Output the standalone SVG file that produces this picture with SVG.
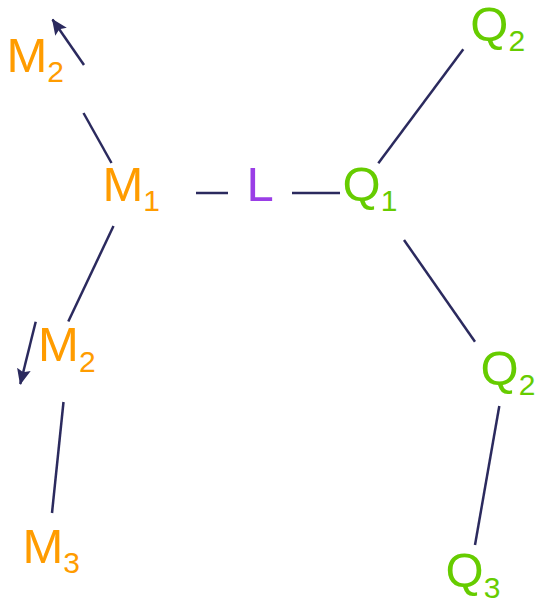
<svg xmlns="http://www.w3.org/2000/svg" width="541" height="602" viewBox="0 0 541 602">
<style>
text{font-family:"Liberation Sans",Arial,sans-serif;font-size:49px}
.sub{font-size:30px}
.o{fill:#ff9c00}
.g{fill:#66cc00}
.p{fill:#9a3ee6}
.c line{stroke:#2b2a5e;stroke-width:2.5;fill:none}
</style>
<defs>
<marker id="ah" viewBox="0 0 16 14" refX="15" refY="7" markerWidth="16" markerHeight="14" markerUnits="userSpaceOnUse" orient="auto">
<path d="M0,0 L16,7 L0,14 L3,7 z" fill="#2b2a5e"/>
</marker>
</defs>
<g class="c" id="connectors">
<line x1="84" y1="65" x2="52.5" y2="19.5" marker-end="url(#ah)"/>
<line x1="83.5" y1="113" x2="111.5" y2="163"/>
<line x1="113.5" y1="226" x2="68.3" y2="321.5"/>
<line x1="35.7" y1="321.7" x2="20.3" y2="384" marker-end="url(#ah)"/>
<line x1="63.5" y1="402" x2="52" y2="513"/>
<line x1="196" y1="193" x2="228" y2="193"/>
<line x1="292" y1="193" x2="340" y2="193"/>
<line x1="378.3" y1="163.3" x2="463.3" y2="49.3"/>
<line x1="404" y1="240" x2="475" y2="341.7"/>
<line x1="499.3" y1="406" x2="475" y2="545"/>
</g>
<g id="M2a"><text class="o" x="6.4" y="72">M<tspan class="sub" dy="10">2</tspan></text></g>
<g id="M1"><text class="o" x="102.4" y="200.5">M<tspan class="sub" dy="10.5">1</tspan></text></g>
<g id="L"><text class="p" x="246.4" y="200.5">L</text></g>
<g id="Q1"><text class="g" x="342.6" y="200.5">Q<tspan class="sub" dy="10.5">1</tspan></text></g>
<g id="Q2a"><text class="g" x="470.3" y="40.7">Q<tspan class="sub" dy="10.5">2</tspan></text></g>
<g id="M2b"><text class="o" x="38.1" y="361">M<tspan class="sub" dy="10.5">2</tspan></text></g>
<g id="M3"><text class="o" x="22.4" y="563.3">M<tspan class="sub" dy="9.7">3</tspan></text></g>
<g id="Q2b"><text class="g" x="480.6" y="385">Q<tspan class="sub" dy="10">2</tspan></text></g>
<g id="Q3"><text class="g" x="445.6" y="587">Q<tspan class="sub" dy="10.5">3</tspan></text></g>
</svg>
